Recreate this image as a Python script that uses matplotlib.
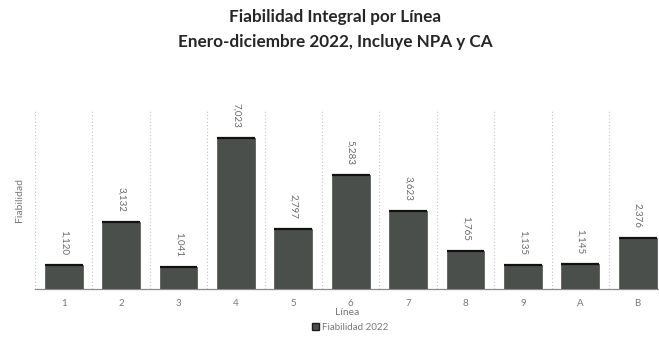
import matplotlib
matplotlib.use("Agg")
import matplotlib.pyplot as plt
from matplotlib.patches import Patch

lineas = ["1", "2", "3", "4", "5", "6", "7", "8", "9", "A", "B"]
fiabilidad_2022 = [1120, 3132, 1041, 7023, 2797, 5283, 3623, 1765, 1135, 1145, 2376]
etiquetas = ["1,120", "3,132", "1,041", "7,023", "2,797", "5,283", "3,623",
             "1,765", "1,135", "1,145", "2,376"]

plt.rcParams["font.family"] = ["Lato", "DejaVu Sans"]

fig = plt.figure(figsize=(6.59, 3.40), dpi=100)
ax = fig.add_axes([35 / 659, 1 - 289 / 340, 624 / 659, 179 / 340])

x = list(range(len(lineas)))
bar_color = "#4b4f4b"
width = 0.66
ax.bar(x, fiabilidad_2022, width=width, color=bar_color, edgecolor=bar_color,
       linewidth=0.5, zorder=3)
# darker rim along the top of each bar
ax.hlines(fiabilidad_2022, [xi - width / 2 for xi in x], [xi + width / 2 for xi in x],
          colors="#111111", linewidth=1.6, zorder=4)

ymax = 8320
for xi, v, t in zip(x, fiabilidad_2022, etiquetas):
    ax.text(xi, v + ymax * 0.055, t, rotation=-90, ha="center", va="bottom",
            fontsize=7, color="#6a6a6a", zorder=4)

ax.set_xlim(-0.5, -0.5 + 624 / 57.4)
ax.set_ylim(0, ymax)

# dotted separators between categories
for b in range(len(lineas)):
    ax.axvline(b - 0.5, color="#c4c4c4", linestyle=(0, (1, 2)), linewidth=0.8, zorder=1)

ax.set_xticks(x)
ax.set_xticklabels(lineas, fontsize=7, color="#777777")
ax.tick_params(axis="x", length=0, pad=7)
ax.set_yticks([])
for s in ["top", "right", "left"]:
    ax.spines[s].set_visible(False)
ax.spines["bottom"].set_color("#8a8a8a")
ax.spines["bottom"].set_linewidth(0.9)

ax.set_ylabel("Fiabilidad", fontsize=7.5, color="#777777", labelpad=8)
ax.set_xlabel("Línea", fontsize=7.5, color="#777777", labelpad=0)

fig.text(335 / 659, 1 - 17 / 340, "Fiabilidad Integral por Línea", ha="center",
         va="center", fontsize=12.3, fontweight="bold", color="#262626")
fig.text(335 / 659, 1 - 42 / 340, "Enero-diciembre 2022, Incluye NPA y CA",
         ha="center", va="center", fontsize=12.3, fontweight="bold", color="#262626")

handles = [Patch(facecolor=bar_color, edgecolor="#1c1c1c", label="Fiabilidad 2022")]
fig.legend(handles=handles, loc="center", bbox_to_anchor=(350 / 659, 1 - 327 / 340),
           frameon=False, fontsize=7, handlelength=0.7, handleheight=0.7,
           handletextpad=0.3, labelcolor="#777777")

fig.savefig("out.png", dpi=100, facecolor="white")
